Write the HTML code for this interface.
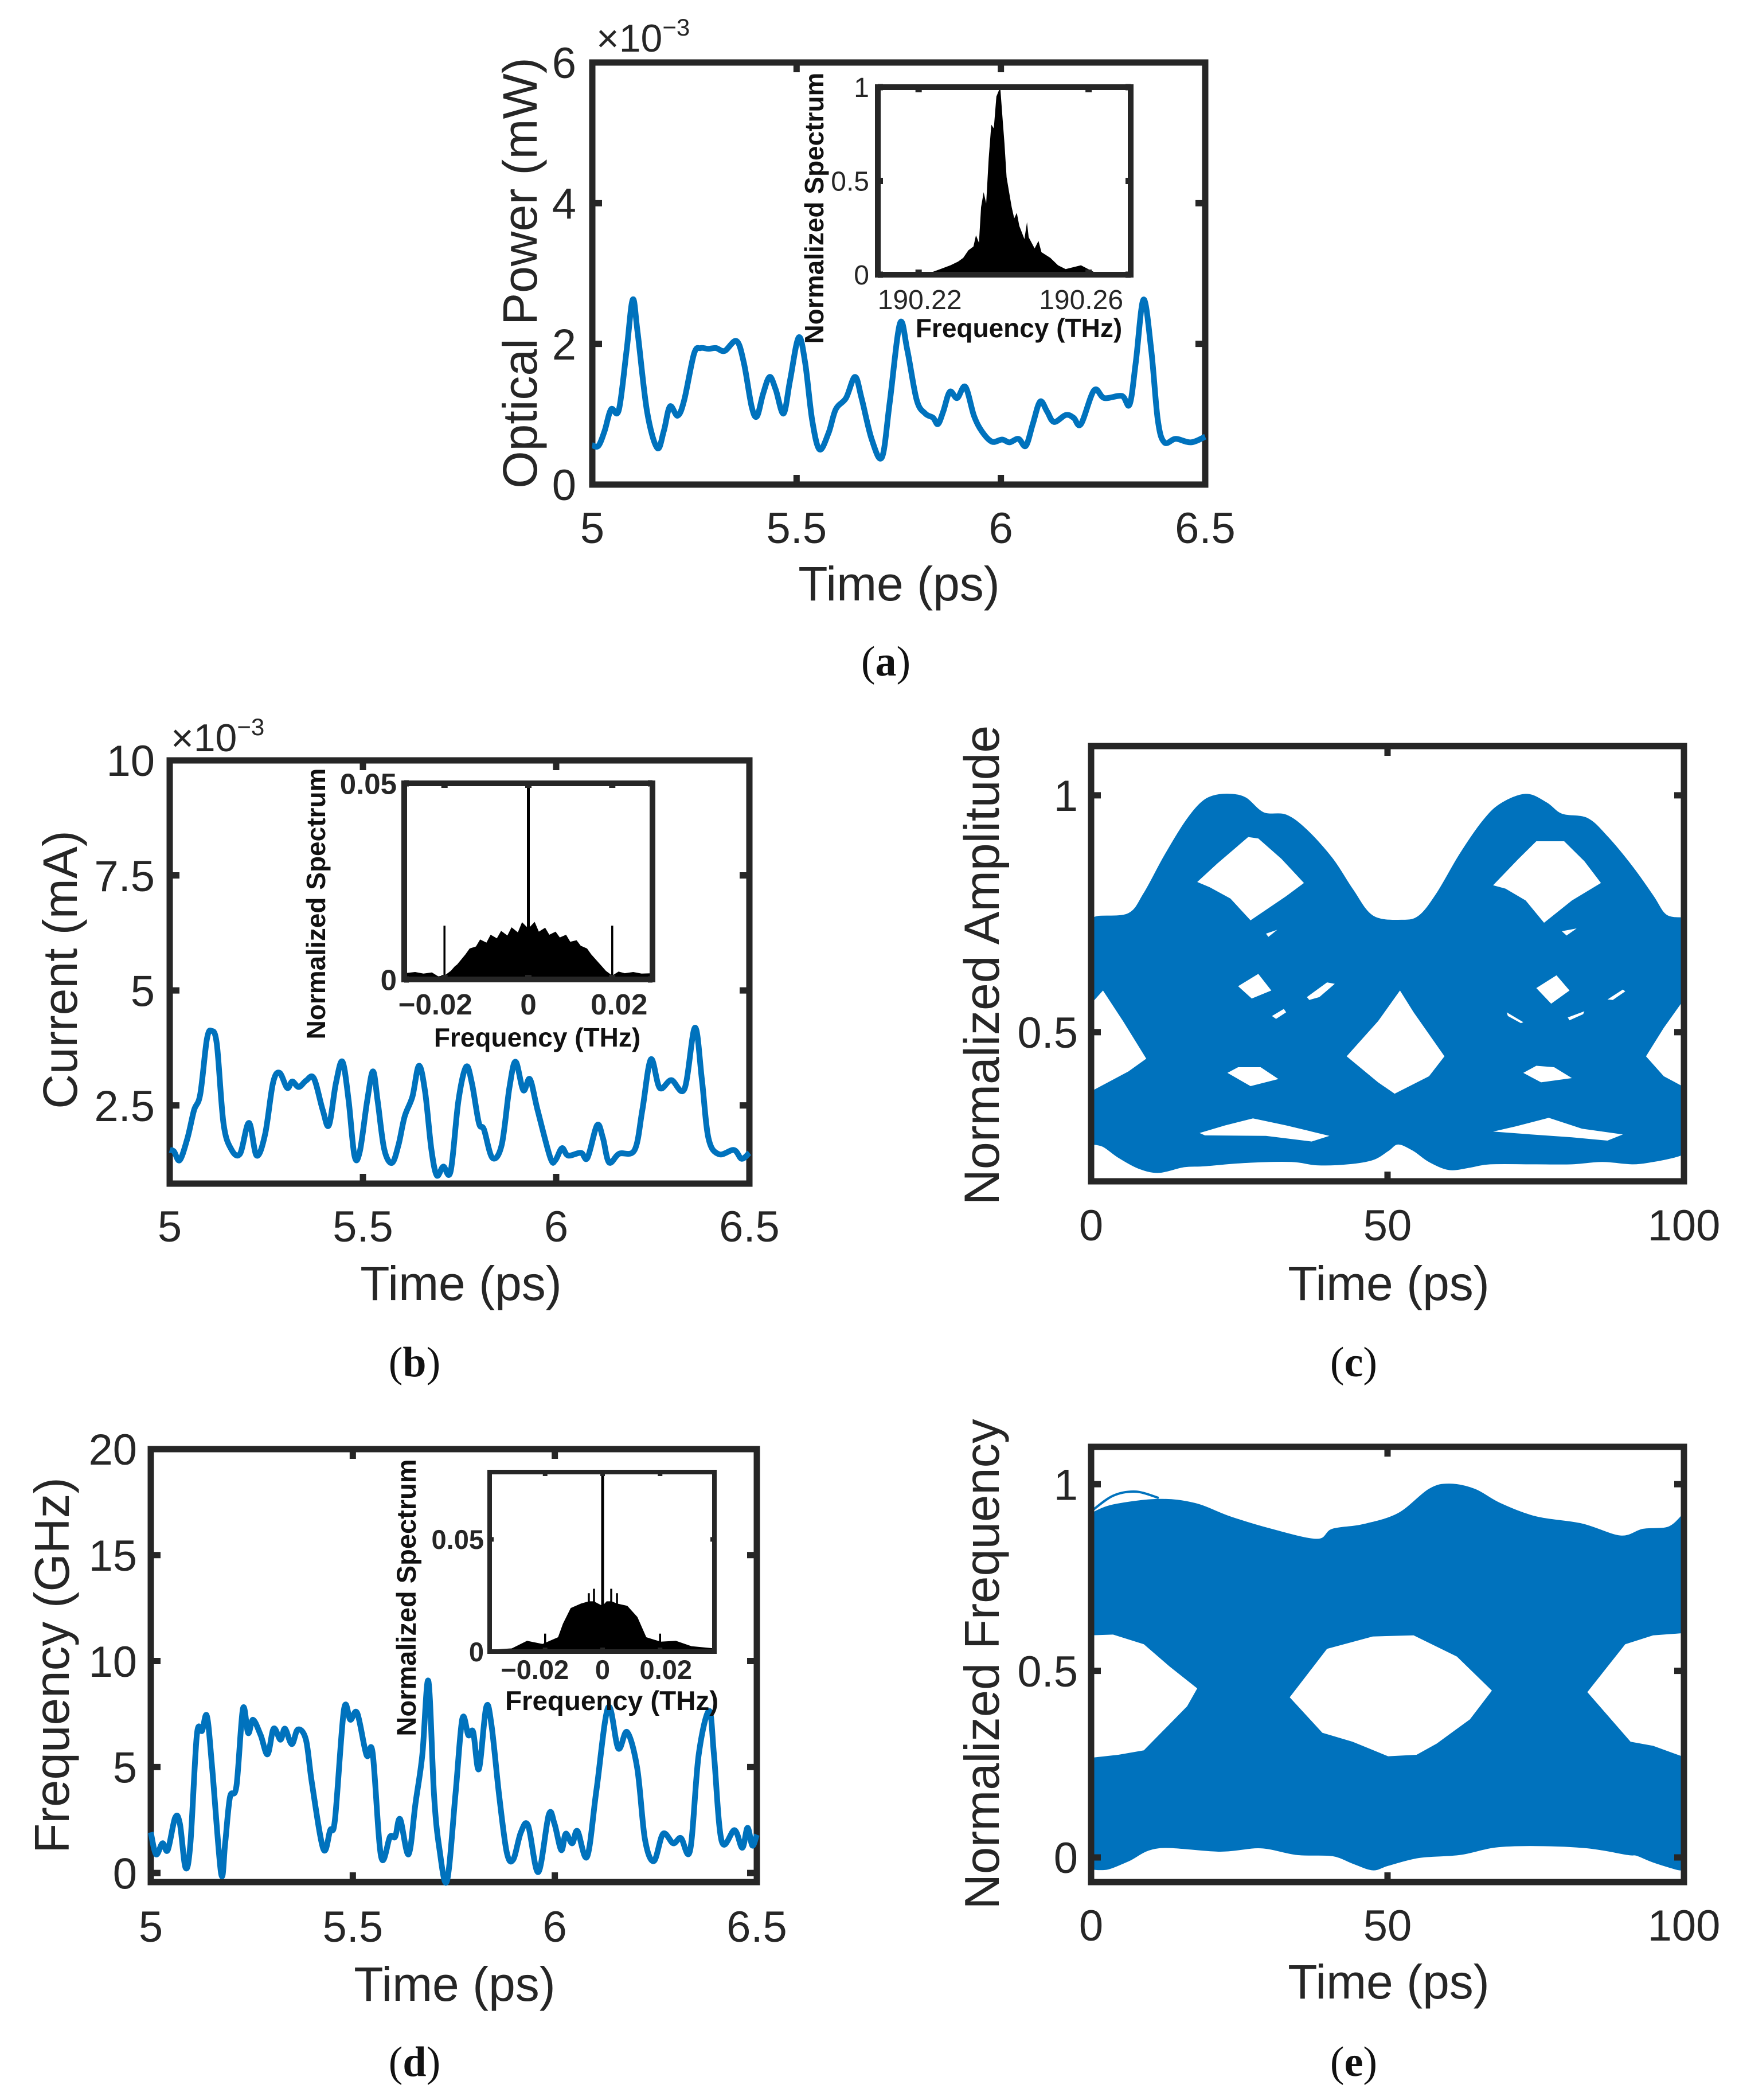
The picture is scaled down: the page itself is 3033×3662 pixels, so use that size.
<!DOCTYPE html>
<html lang="en">
<head>
<meta charset="utf-8">
<title>Optical signal panels</title>
<style>
html,body{margin:0;padding:0;background:#fff;}
svg{display:block;}
text{font-family:"Liberation Sans",sans-serif;fill:#262626;}
.cap{font-family:"Liberation Serif",serif;font-size:74px;fill:#111;text-anchor:middle;}
.cap tspan{font-family:"Liberation Serif",serif;font-weight:bold;fill:#111;}
.lab{font-size:84px;text-anchor:middle;}
.ilab{font-size:46px;font-weight:bold;text-anchor:middle;fill:#111;}
.mult{font-size:68px;}
</style>
</head>
<body>
<svg id="fig" xmlns="http://www.w3.org/2000/svg" width="3033" height="3662" viewBox="0 0 3033 3662">
<rect width="3033" height="3662" fill="#fff"/>
<g id="a"></g>
<g id="b"></g>
<g id="c"></g>
<g id="d"></g>
<g id="e"></g>

<text class="lab" transform="translate(936 476) rotate(-90)">Optical Power (mW)</text>
<text class="lab" x="1568" y="1047">Time (ps)</text>
<text class="mult" x="1040" y="90">×10<tspan font-size="42" dy="-28">−3</tspan></text>
<text class="ilab" transform="translate(1436 363) rotate(-90)">Normalized Spectrum</text>
<text class="ilab" x="1777" y="588">Frequency (THz)</text>
<text class="cap" x="1545" y="1178">(<tspan>a</tspan>)</text>

<text class="lab" transform="translate(134 1691) rotate(-90)">Current (mA)</text>
<text class="lab" x="804" y="2267">Time (ps)</text>
<text class="mult" x="298" y="1310">×10<tspan font-size="42" dy="-28">−3</tspan></text>
<text class="ilab" transform="translate(567 1576) rotate(-90)">Normalized Spectrum</text>
<text class="ilab" x="937" y="1825">Frequency (THz)</text>
<text class="cap" x="723" y="2400">(<tspan>b</tspan>)</text>

<text class="lab" style="font-size:86px" transform="translate(1742 1683) rotate(-90)">Normalized Amplitude</text>
<text class="lab" x="2422" y="2267">Time (ps)</text>
<text class="cap" x="2361" y="2400">(<tspan>c</tspan>)</text>

<text class="lab" style="font-size:85.5px" transform="translate(120 2904) rotate(-90)">Frequency (GHz)</text>
<text class="lab" x="793" y="3489">Time (ps)</text>
<text class="ilab" style="font-size:47px" transform="translate(725 2786) rotate(-90)">Normalized Spectrum</text>
<text class="ilab" style="font-size:47.5px" x="1067" y="2982">Frequency (THz)</text>
<text class="cap" x="723" y="3620">(<tspan>d</tspan>)</text>

<text class="lab" style="font-size:85px" transform="translate(1742 2902) rotate(-90)">Normalized Frequency</text>
<text class="lab" x="2422" y="3485">Time (ps)</text>
<text class="cap" x="2361" y="3620">(<tspan>e</tspan>)</text>
</svg>
<script>
/* ---------- panel (a) data ---------- */
const timeA = [5,5.015,5.03,5.046,5.065,5.084,5.099,5.111,5.134,5.159,5.175,5.19,5.209,5.225,5.249,5.265,5.284,5.303,5.324,5.353,5.371,5.39,5.403,5.418,5.434,5.449,5.468,5.484,5.505,5.521,5.538,5.556,5.578,5.596,5.621,5.643,5.659,5.684,5.709,5.728,5.753,5.771,5.794,5.815,5.834,5.846,5.859,5.875,5.893,5.913,5.934,5.953,5.978,6.003,6.021,6.043,6.061,6.078,6.096,6.113,6.13,6.159,6.178,6.196,6.228,6.253,6.296,6.315,6.33,6.349,6.368,6.384,6.4,6.428,6.465,6.5];
const powerA = [0.56,0.55,0.76,1.07,1.06,1.91,2.63,2.16,1.04,0.52,0.76,1.11,0.98,1.2,1.86,1.94,1.93,1.94,1.9,2.04,1.73,1.11,0.97,1.29,1.53,1.35,1.01,1.48,2.09,1.73,0.92,0.5,0.73,1.07,1.23,1.53,1.23,0.64,0.39,1.17,2.29,1.91,1.2,1.01,0.95,0.86,1.04,1.32,1.23,1.39,0.98,0.76,0.61,0.64,0.6,0.65,0.55,0.86,1.18,1.04,0.89,0.99,0.95,0.86,1.34,1.23,1.26,1.14,1.73,2.63,1.91,0.92,0.6,0.65,0.6,0.68];
const specFreqA = [190.2104,190.219,190.2227,190.2251,190.2275,190.2293,190.2305,190.2317,190.2329,190.2335,190.2342,190.2347,190.2353,190.2359,190.2365,190.2371,190.2377,190.2383,190.2392,190.2398,190.2402,190.2407,190.2413,190.2419,190.2425,190.2431,190.2437,190.2449,190.2455,190.2459,190.2473,190.2482,190.2489,190.251,190.2528,190.2546,190.2582,190.2612,190.2648,190.2699];
const specValA = [0,0.005,0.01,0.03,0.05,0.07,0.09,0.13,0.15,0.21,0.17,0.36,0.44,0.38,0.62,0.8,0.78,0.95,1,0.82,0.7,0.52,0.44,0.36,0.3,0.33,0.26,0.19,0.28,0.2,0.14,0.18,0.12,0.09,0.05,0.03,0.05,0.015,0.005,0];

/* ---------- panel (b) data ---------- */
const timeB = [5,5.011,5.026,5.046,5.063,5.079,5.096,5.108,5.122,5.139,5.159,5.182,5.205,5.225,5.247,5.267,5.284,5.304,5.317,5.334,5.353,5.373,5.396,5.412,5.43,5.447,5.463,5.478,5.492,5.511,5.526,5.538,5.555,5.575,5.592,5.608,5.628,5.645,5.661,5.677,5.691,5.708,5.727,5.747,5.767,5.782,5.8,5.813,5.835,5.859,5.879,5.895,5.915,5.932,5.952,5.985,5.998,6.015,6.031,6.064,6.081,6.106,6.121,6.137,6.163,6.203,6.223,6.245,6.268,6.298,6.332,6.359,6.377,6.394,6.421,6.46,6.48,6.5];
const currentB = [1.53,1.5,1.31,1.79,2.4,2.74,3.93,4.12,3.83,2.12,1.55,1.45,2.12,1.41,1.88,2.98,3.21,2.88,3.02,2.9,3.04,3.09,2.4,2.07,2.98,3.45,2.6,1.41,1.5,2.6,3.24,2.6,1.55,1.25,1.64,2.26,2.69,3.36,2.79,1.55,0.98,1.17,1.07,2.6,3.34,2.98,2.12,1.98,1.36,1.64,2.88,3.45,2.83,3.07,2.4,1.36,1.31,1.57,1.41,1.47,1.36,2.07,1.79,1.26,1.45,1.53,2.4,3.5,2.88,3.05,2.86,4.19,3.07,1.79,1.44,1.53,1.34,1.47];
const specFreqB = [-0.0296,-0.027,-0.025,-0.023,-0.0215,-0.02,-0.0185,-0.0175,-0.017,-0.015,-0.014,-0.0125,-0.0115,-0.01,-0.009,-0.0075,-0.0065,-0.005,-0.004,-0.0025,-0.0015,0,0.0015,0.0025,0.004,0.005,0.0065,0.0075,0.009,0.01,0.0115,0.0125,0.014,0.015,0.017,0.0175,0.0185,0.02,0.0215,0.023,0.025,0.027,0.0296];
const specValB = [0.0016,0.0019,0.0015,0.0018,0.0008,0.001,0.0022,0.0034,0.0038,0.0064,0.0079,0.0084,0.0102,0.0094,0.0114,0.0105,0.0124,0.0112,0.0133,0.012,0.0146,0.013,0.0147,0.0122,0.0132,0.0114,0.0122,0.0107,0.0114,0.0096,0.01,0.0086,0.0079,0.0064,0.004,0.0034,0.0022,0.001,0.002,0.0016,0.0019,0.0015,0.0016];
const spikeFreqB = [-0.02,0,0.02];
const spikeValB = [0.0137,0.05,0.0137];

/* ---------- panel (d) data ---------- */
const timeD = [5,5.013,5.029,5.042,5.06,5.072,5.086,5.098,5.114,5.127,5.139,5.152,5.174,5.184,5.196,5.212,5.228,5.241,5.253,5.272,5.289,5.304,5.321,5.332,5.349,5.364,5.384,5.399,5.427,5.444,5.456,5.478,5.494,5.511,5.534,5.549,5.57,5.592,5.605,5.617,5.638,5.655,5.672,5.687,5.701,5.714,5.733,5.754,5.771,5.786,5.798,5.812,5.83,5.843,5.862,5.881,5.897,5.916,5.934,5.959,5.985,5.999,6.016,6.027,6.043,6.056,6.08,6.103,6.132,6.157,6.179,6.204,6.223,6.245,6.268,6.293,6.312,6.335,6.356,6.382,6.394,6.413,6.445,6.464,6.477,6.489,6.5];
const freqD = [1.92,0.88,1.4,1.08,2.6,2.33,0.25,1.4,6.5,6.71,7.4,4.94,-0.02,1.4,3.58,4.1,7.75,6.6,7.23,6.5,5.6,6.81,6.29,6.81,6.08,6.77,6.29,4.21,1.13,2.02,2.54,7.69,7.23,7.54,5.56,5.67,0.77,1.71,1.71,2.54,0.88,3.27,5.56,9.06,3.69,1.19,-0.38,3.69,7.27,6.5,6.65,4.9,7.81,7.02,3.69,0.98,0.63,1.92,2.23,0.04,2.75,2.33,1.08,1.85,1.4,1.98,0.77,3.9,7.81,5.88,6.65,4.94,1.6,0.56,1.85,1.4,1.65,1.08,5.56,7.65,5.56,1.5,2.02,1.19,2.13,1.29,1.81];
const specFreqD = [-0.0393,-0.0316,-0.0263,-0.0209,-0.0155,-0.0138,-0.0111,-0.0075,-0.0048,-0.003,-0.0016,0,0.0014,0.0032,0.005,0.0086,0.0121,0.0152,0.0202,0.0255,0.0309,0.0389];
const specValD = [0.0008,0.0014,0.0048,0.0034,0.0064,0.0124,0.0194,0.0214,0.0224,0.0224,0.0214,0.0204,0.0224,0.0224,0.0214,0.0204,0.0154,0.0064,0.0044,0.0048,0.0024,0.0014];
const spikeFreqD = [-0.02,-0.0048,-0.003,0,0.003,0.005,0.02];
const spikeValD = [0.008,0.026,0.028,0.08,0.028,0.026,0.008];

/* ---------- panel (c) eye diagram data ---------- */
const eyeCUpperT = [0,1.1,6.3,8.9,12.3,15.7,18.3,20.5,23.5,26.1,29.1,32.9,36.4,40.7,44.1,47.5,52.3,55.3,58.3,62.2,66,69,73.3,76.8,79.4,83.7,87.1,91.4,94.8,97,100];
const eyeCUpperV = [0.736,0.744,0.75,0.792,0.87,0.94,0.981,0.998,1.002,0.994,0.963,0.958,0.926,0.866,0.801,0.745,0.736,0.745,0.792,0.875,0.944,0.981,1.002,0.984,0.96,0.951,0.912,0.847,0.787,0.747,0.741];
const eyeCLowerT = [0,2,4.6,8,11.4,15.7,19.2,26.1,33.8,38.1,43.3,47.5,50.1,51.8,54.4,57,60.4,63.9,67.3,75.1,81.1,86.2,91.4,94.8,98.3,100];
const eyeCLowerV = [0.264,0.259,0.236,0.213,0.204,0.216,0.218,0.225,0.227,0.22,0.222,0.231,0.25,0.264,0.25,0.227,0.21,0.215,0.222,0.222,0.222,0.227,0.222,0.227,0.236,0.243];
const eyeCHoleT = [
 [17.9,21.3,26.5,28.2,32.1,35.9,32.9,26.9,23.5,20],
 [67.8,72.1,75.1,79.8,83.2,86,81.1,76.4,73.3,69.9],
 [52.1,54.4,59.6,57,51.2,48.4,43.1,48.4],
 [0,2,5.4,9.3,6.3,0],
 [100,96.6,93.6,96.6,100],
 [28.2,30.4,27.1,24.8],
 [78.5,80.7,77.6,75.1],
 [29.5,31.4,29.9],
 [79.4,81.9,80.2],
 [36.4,39.8,41.1,38.5,36.8],
 [87.1,89.7,90.1,88],
 [30.5,32.5,32.9,31.2],
 [23,24.8,28.6,31.6,26.9],
 [72.9,75.1,78.1,81.1,75.9],
 [18.3,22.6,27.3,32.9,40.2,37.2,29.5,19.2],
 [67.8,71.6,77.2,82.8,89.7,87.1,81.1,74.2],
 [70.1,72.9,72.5,70.3],
 [80.4,83.2,83,80.7]
];
const eyeCHoleV = [
 [0.817,0.856,0.912,0.909,0.866,0.815,0.787,0.736,0.782,0.806],
 [0.81,0.866,0.903,0.903,0.861,0.815,0.778,0.731,0.778,0.803],
 [0.588,0.542,0.449,0.407,0.37,0.394,0.449,0.523],
 [0.56,0.588,0.523,0.444,0.417,0.375],
 [0.569,0.509,0.449,0.407,0.384],
 [0.623,0.588,0.571,0.597],
 [0.62,0.588,0.56,0.593],
 [0.708,0.716,0.701],
 [0.713,0.719,0.704],
 [0.574,0.605,0.602,0.574,0.568],
 [0.569,0.59,0.586,0.568],
 [0.534,0.549,0.542,0.528],
 [0.414,0.426,0.426,0.401,0.386],
 [0.414,0.429,0.426,0.403,0.394],
 [0.287,0.303,0.318,0.303,0.281,0.269,0.281,0.282],
 [0.29,0.301,0.319,0.296,0.284,0.271,0.278,0.284],
 [0.542,0.521,0.519,0.534],
 [0.531,0.544,0.538,0.525]
];

/* ---------- panel (e) eye diagram data ---------- */
const eyeEUpperT = [0,3.7,11.4,17.5,23.5,30.4,38.1,40.7,45.8,51.8,57,60.4,64.7,69,75.1,82.8,89.3,93.1,97.4,100];
const eyeEUpperV = [0.921,0.944,0.959,0.948,0.912,0.879,0.852,0.879,0.891,0.921,0.986,1,0.986,0.948,0.912,0.893,0.861,0.879,0.885,0.921];
const eyeELowerT = [0,2.8,6.3,11.4,21.8,28.6,34.7,40.7,44.1,47.5,50.1,55.3,62.2,68.2,75.1,83.7,90.5,92,94.8,98.9,100];
const eyeELowerV = [-0.031,-0.031,-0.009,0.026,0.017,0.026,0.008,0.005,-0.015,-0.033,-0.021,0,0.008,0.028,0.032,0.026,0.008,0.006,-0.012,-0.032,-0.032];
const eyeEHoleT = [
 [0,3.7,8.9,13.2,17.9,16.2,8.9,4.6,0],
 [39.8,47.5,54.4,61.7,67.6,63.9,58.3,54.9,50.1,44.1,39,33.5],
 [100,94.8,90.1,83.7,91,94.8,100]
];
const eyeEHoleV = [
 [0.595,0.597,0.571,0.512,0.453,0.405,0.287,0.275,0.267],
 [0.559,0.592,0.595,0.538,0.447,0.37,0.305,0.275,0.271,0.31,0.334,0.429],
 [0.601,0.595,0.571,0.443,0.31,0.299,0.269]
];
const eyeETraceT = [0,3.7,7.6,11.4];
const eyeETraceV = [0.927,0.969,0.98,0.963];

/* ---------- tick values and labels ---------- */
const timeTicks = [5,5.5,6,6.5];
const timeTickLabels = ['5','5.5','6','6.5'];
const eyeTicks = [0,50,100];
const eyeTickLabels = ['0','50','100'];
const powerTicks = [0,2,4,6];
const powerTickLabels = ['0','2','4','6'];
const currentTicks = [2.5,5,7.5,10];
const currentTickLabels = ['2.5','5','7.5','10'];
const freqTicks = [0,5,10,15,20];
const freqTickLabels = ['0','5','10','15','20'];
const normTicks = [0.5,1];
const normTickLabels = ['0.5','1'];
const normFreqTicks = [0,0.5,1];
const normFreqTickLabels = ['0','0.5','1'];
const insetATicksX = [190.22,190.26];
const insetATickLabelsX = ['190.22','190.26'];
const insetATicksY = [0,0.5,1];
const insetATickLabelsY = ['0','0.5','1'];
const insetBTicksX = [-0.02,0,0.02];
const insetBTickLabelsX = ['−0.02','0','0.02'];
const insetBTicksY = [0,0.05];
const insetBTickLabelsY = ['0','0.05'];
const insetDTicksX = [-0.02,0,0.02];
const insetDTickLabelsX = ['−0.02','0','0.02'];
const insetDTicksY = [0,0.05];
const insetDTickLabelsY = ['0','0.05'];

/* ---------- drawing helpers ---------- */
const NS = 'http://www.w3.org/2000/svg';
const BLUE = '#0072BD';
const DARK = '#262626';

function linear(d0, d1, r0, r1) {
  return function (v) { return r0 + (v - d0) * (r1 - r0) / (d1 - d0); };
}
function mk(parent, tag, name, attrs) {
  const el = document.createElementNS(NS, tag);
  
  
  for (const k in attrs) el.setAttribute(k, attrs[k]);
  parent.appendChild(el);
  return el;
}
function axesFor(box, xlim, ylim) {
  return { x: linear(xlim[0], xlim[1], box.l, box.r), y: linear(ylim[0], ylim[1], box.b, box.t) };
}
function smoothPath(xs, ys, ax) {
  const px = xs.map(ax.x), py = ys.map(ax.y);
  let d = 'M' + px[0].toFixed(1) + ' ' + py[0].toFixed(1);
  for (let i = 0; i < px.length - 1; i++) {
    const i0 = Math.max(i - 1, 0), i3 = Math.min(i + 2, px.length - 1);
    const c1x = px[i] + (px[i + 1] - px[i0]) / 6, c1y = py[i] + (py[i + 1] - py[i0]) / 6;
    const c2x = px[i + 1] - (px[i3] - px[i]) / 6, c2y = py[i + 1] - (py[i3] - py[i]) / 6;
    d += 'C' + c1x.toFixed(1) + ' ' + c1y.toFixed(1) + ' ' + c2x.toFixed(1) + ' ' + c2y.toFixed(1) + ' ' + px[i + 1].toFixed(1) + ' ' + py[i + 1].toFixed(1);
  }
  return d;
}
function polyPoints(xs, ys, ax) {
  return xs.map(function (v, i) { return ax.x(v).toFixed(1) + ',' + ax.y(ys[i]).toFixed(1); }).join(' ');
}
function drawCurve(parent, name, xs, ys, ax, width) {
  mk(parent, 'path', name, { d: smoothPath(xs, ys, ax), fill: 'none', stroke: BLUE, 'stroke-width': width, 'stroke-linejoin': 'round', 'stroke-linecap': 'butt' });
}
function drawSpectrum(parent, name, fs, vs, spikeF, spikeV, box, ax) {
  const pts = fs.map(function (v, i) { return ax.x(v).toFixed(1) + ',' + ax.y(vs[i]).toFixed(1); });
  pts.unshift(ax.x(fs[0]).toFixed(1) + ',' + box.b);
  pts.push(ax.x(fs[fs.length - 1]).toFixed(1) + ',' + box.b);
  mk(parent, 'polygon', name, { points: pts.join(' '), fill: '#000' });
  spikeF.forEach(function (f, i) {
    mk(parent, 'line', name + '-spike', { x1: ax.x(f), x2: ax.x(f), y1: box.b, y2: ax.y(spikeV[i]), stroke: '#000', 'stroke-width': f === 0 ? 5 : 3.5 });
  });
}
function drawEye(parent, name, upT, upV, loT, loV, holeT, holeV, box, ax) {
  const upper = smoothPath(upT, upV, ax);
  const lower = smoothPath(loT.slice().reverse(), loV.slice().reverse(), ax);
  mk(parent, 'path', name + '-band', { d: upper + 'L' + lower.slice(1) + 'Z', fill: BLUE, stroke: BLUE, 'stroke-width': 2, 'stroke-linejoin': 'round' });
  holeT.forEach(function (h, i) {
    mk(parent, 'polygon', name + '-opening', { points: polyPoints(h, holeV[i], ax), fill: '#fff' });
  });
}
function drawFrame(parent, prefix, box, ax, o) {
  mk(parent, 'rect', prefix + '-frame', { x: box.l, y: box.t, width: box.r - box.l, height: box.b - box.t, fill: 'none', stroke: DARK, 'stroke-width': o.stroke });
  o.xticks.forEach(function (v, i) {
    const px = ax.x(v);
    mk(parent, 'line', prefix + '-x-tick-bottom', { x1: px, x2: px, y1: box.b, y2: box.b - o.tick, stroke: DARK, 'stroke-width': o.tickW });
    mk(parent, 'line', prefix + '-x-tick-top', { x1: px, x2: px, y1: box.t, y2: box.t + o.tick, stroke: DARK, 'stroke-width': o.tickW });
    const t = mk(parent, 'text', prefix + '-x-tick-label', { x: px + (o.xShift ? o.xShift[i] : 0), y: o.xBase, 'text-anchor': 'middle', 'font-size': o.font, 'font-weight': o.weight || 'normal' });
    t.textContent = o.xlabels[i];
  });
  o.yticks.forEach(function (v, i) {
    const py = ax.y(v);
    mk(parent, 'line', prefix + '-y-tick-left', { x1: box.l, x2: box.l + o.tick, y1: py, y2: py, stroke: DARK, 'stroke-width': o.tickW });
    mk(parent, 'line', prefix + '-y-tick-right', { x1: box.r, x2: box.r - o.tick, y1: py, y2: py, stroke: DARK, 'stroke-width': o.tickW });
    const t = mk(parent, 'text', prefix + '-y-tick-label', { x: o.yRight, y: py + o.font * 0.358, 'text-anchor': 'end', 'font-size': o.font, 'font-weight': o.weight || 'normal' });
    t.textContent = o.ylabels[i];
  });
}

/* ---------- panel (a) ---------- */
(function () {
  const g = document.getElementById('a');
  const box = { l: 1033, r: 2102, t: 109, b: 845 };
  const ax = axesFor(box, [5, 6.5], [0, 6]);
  drawFrame(g, 'panel-a', box, ax, { stroke: 11, tick: 17, tickW: 11, font: 76, xticks: timeTicks, xlabels: timeTickLabels, yticks: powerTicks, ylabels: powerTickLabels, xBase: 947, yRight: 1005 });
  drawCurve(g, 'optical-power-line', timeA, powerA, ax, 10);
  const ib = { l: 1531, r: 1972, t: 152, b: 479 };
  const ia = axesFor(ib, [190.2104, 190.2699], [0, 1]);
  drawSpectrum(g, 'inset-a-spectrum', specFreqA, specValA, [], [], ib, ia);
  drawFrame(g, 'inset-a', ib, ia, { stroke: 10, tick: 9, tickW: 11, font: 48, xticks: insetATicksX, xlabels: insetATickLabelsX, yticks: insetATicksY, ylabels: insetATickLabelsY, xBase: 539, yRight: 1516, xShift: [2, -13] });
})();

/* ---------- panel (b) ---------- */
(function () {
  const g = document.getElementById('b');
  const box = { l: 296, r: 1307, t: 1326, b: 2064 };
  const ax = axesFor(box, [5, 6.5], [0.8, 10]);
  drawFrame(g, 'panel-b', box, ax, { stroke: 11, tick: 17, tickW: 11, font: 76, xticks: timeTicks, xlabels: timeTickLabels, yticks: currentTicks, ylabels: currentTickLabels, xBase: 2165, yRight: 270 });
  drawCurve(g, 'current-line', timeB, currentB, ax, 10);
  const ib = { l: 705, r: 1138, t: 1366, b: 1708 };
  const ia = axesFor(ib, [-0.0296, 0.0296], [0, 0.05]);
  drawSpectrum(g, 'inset-b-spectrum', specFreqB, specValB, spikeFreqB, spikeValB, ib, ia);
  drawFrame(g, 'inset-b', ib, ia, { stroke: 10, tick: 8, tickW: 11, font: 51, weight: 'bold', xticks: insetBTicksX, xlabels: insetBTickLabelsX, yticks: insetBTicksY, ylabels: insetBTickLabelsY, xBase: 1769, yRight: 692, xShift: [-16, 0, 12] });
})();

/* ---------- panel (c) ---------- */
(function () {
  const g = document.getElementById('c');
  const box = { l: 1903, r: 2937, t: 1301, b: 2060 };
  const ax = axesFor(box, [0, 100], [0.185, 1.104]);
  drawEye(g, 'amplitude-eye', eyeCUpperT, eyeCUpperV, eyeCLowerT, eyeCLowerV, eyeCHoleT, eyeCHoleV, box, ax);
  drawFrame(g, 'panel-c', box, ax, { stroke: 11, tick: 17, tickW: 11, font: 76, xticks: eyeTicks, xlabels: eyeTickLabels, yticks: normTicks, ylabels: normTickLabels, xBase: 2163, yRight: 1880 });
})();

/* ---------- panel (d) ---------- */
(function () {
  const g = document.getElementById('d');
  const box = { l: 263, r: 1320, t: 2527, b: 3282 };
  const ax = axesFor(box, [5, 6.5], [-0.43, 20]);
  drawFrame(g, 'panel-d', box, ax, { stroke: 11, tick: 17, tickW: 11, font: 76, xticks: timeTicks, xlabels: timeTickLabels, yticks: freqTicks, ylabels: freqTickLabels, xBase: 3386, yRight: 239 });
  drawCurve(g, 'frequency-line', timeD, freqD, ax, 10);
  const ib = { l: 854, r: 1246, t: 2567, b: 2880 };
  const ia = axesFor(ib, [-0.0393, 0.0389], [0, 0.08]);
  drawSpectrum(g, 'inset-d-spectrum', specFreqD, specValD, spikeFreqD, spikeValD, ib, ia);
  drawFrame(g, 'inset-d', ib, ia, { stroke: 8, tick: 7, tickW: 8, font: 47, weight: 'bold', xticks: insetDTicksX, xlabels: insetDTickLabelsX, yticks: insetDTicksY, ylabels: insetDTickLabelsY, xBase: 2928, yRight: 844, xShift: [-18, 0, 10] });
})();

/* ---------- panel (e) ---------- */
(function () {
  const g = document.getElementById('e');
  const box = { l: 1903, r: 2937, t: 2523, b: 3282 };
  const ax = axesFor(box, [0, 100], [-0.066, 1.1]);
  drawEye(g, 'frequency-eye', eyeEUpperT, eyeEUpperV, eyeELowerT, eyeELowerV, eyeEHoleT, eyeEHoleV, box, ax);
  drawCurve(g, 'frequency-eye-excursion-trace', eyeETraceT, eyeETraceV, ax, 4);
  drawFrame(g, 'panel-e', box, ax, { stroke: 11, tick: 17, tickW: 11, font: 76, xticks: eyeTicks, xlabels: eyeTickLabels, yticks: normFreqTicks, ylabels: normFreqTickLabels, xBase: 3384, yRight: 1880 });
})();
</script>
</body>
</html>
